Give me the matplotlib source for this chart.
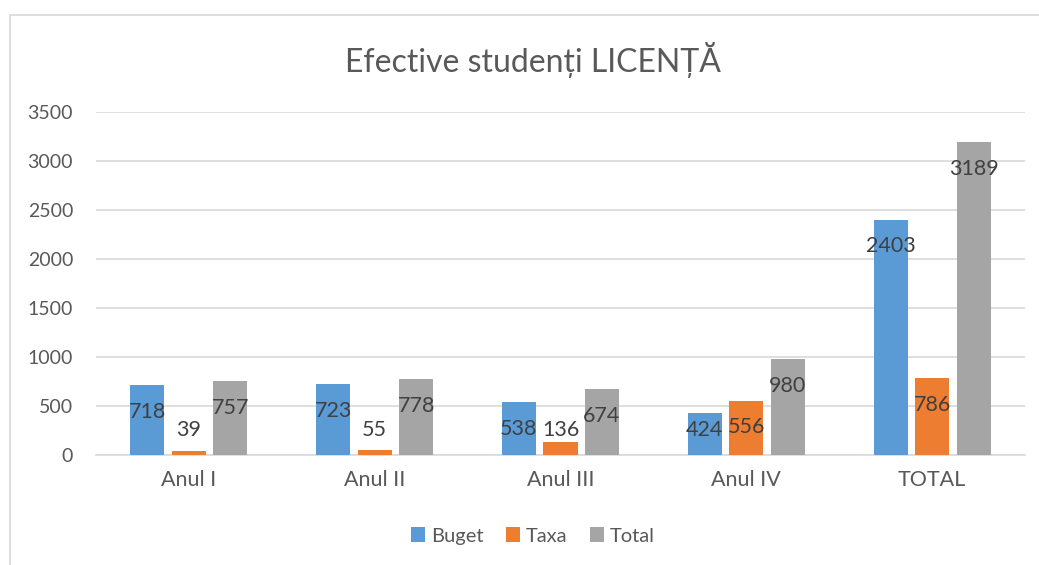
import matplotlib.pyplot as plt
from matplotlib.patches import Rectangle
import numpy as np

plt.rcParams['font.family'] = ['Lato', 'DejaVu Sans']

categories = ["Anul I", "Anul II", "Anul III", "Anul IV", "TOTAL"]
buget = [718, 723, 538, 424, 2403]
taxa = [39, 55, 136, 556, 786]
total = [757, 778, 674, 980, 3189]

series = [("Buget", buget, "#5B9BD5"), ("Taxa", taxa, "#ED7D31"), ("Total", total, "#A5A5A5")]

W, H = 1039, 565
fig = plt.figure(figsize=(W / 100, H / 100), dpi=100)

# chart frame
fig.patches.append(Rectangle((10 / W, -0.1), 1.2, 1 - 15 / H + 0.1, transform=fig.transFigure,
                             facecolor="none", edgecolor="#D9D9D9", linewidth=1.2))

ax = fig.add_axes([96 / W, 1 - 455 / H, (1025 - 96) / W, (455 - 112) / H])

x = np.arange(len(categories))
step = 0.2236
width = 0.183
for i, (name, vals, color) in enumerate(series):
    pos = x + (i - 1) * step
    ax.bar(pos, vals, width, color=color, label=name, zorder=3)
    for p, v in zip(pos, vals):
        ly = max(v - 275, 255)
        ax.text(p, ly, str(v), ha="center", va="center", fontsize=15.5, color="#404040", zorder=4)

ax.set_xlim(-0.5, len(categories) - 0.5)
ax.set_ylim(0, 3500)
ax.set_yticks(range(0, 3501, 500))
ax.set_xticks(x)
ax.set_xticklabels(categories)
ax.tick_params(axis="both", length=0, colors="#595959")
ax.tick_params(axis="y", pad=16.5, labelsize=14)
ax.tick_params(axis="x", pad=11, labelsize=15.5)
ax.grid(axis="y", color="#D9D9D9", linewidth=1.2, zorder=0)
for s in ["top", "right", "left"]:
    ax.spines[s].set_visible(False)
ax.spines["bottom"].set_color("#D9D9D9")
ax.spines["bottom"].set_linewidth(1.2)

fig.text(533 / W, 1 - 60 / H, "Efective studenți LICENȚĂ", ha="center", va="center",
         fontsize=23, color="#595959")

leg = fig.legend(loc="center", bbox_to_anchor=(533 / W, 1 - 536 / H), ncol=3, frameon=False,
                 fontsize=14.5, handlelength=0.7, handleheight=0.7, handletextpad=0.3,
                 columnspacing=1.1, labelcolor="#595959")

fig.savefig("out.png", dpi=100)
